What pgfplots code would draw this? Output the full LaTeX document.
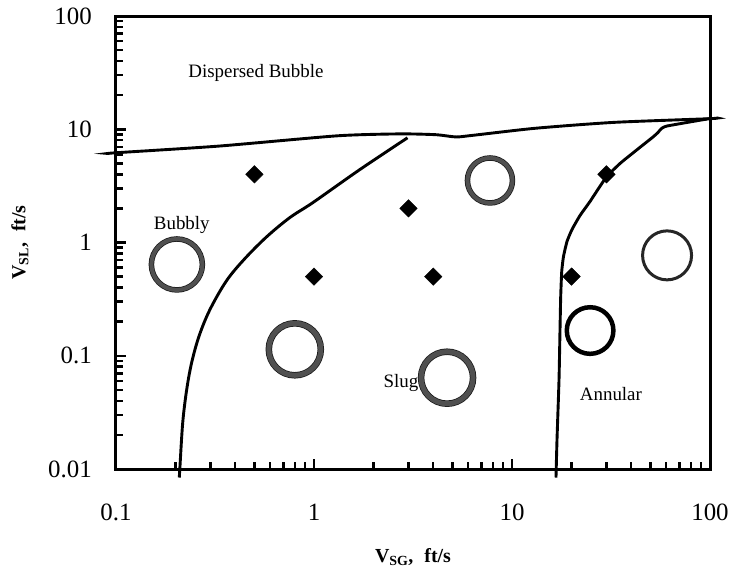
\documentclass[border=0pt]{standalone}
\usepackage{pgfplots}
\pgfplotsset{compat=1.18}
\usepackage{fontspec}
\setmainfont{Liberation Serif}
\definecolor{ringgray}{RGB}{80,80,80}
\pgfplotsset{
  grayring/.style n args={2}{only marks, mark=o, mark size=#1, mark options={draw=black!90, line width=#2}},
  grayin/.style n args={2}{only marks, mark=o, mark size=#1, mark options={draw=ringgray, line width=#2}},
}
\begin{document}
\begin{tikzpicture}
\begin{axis}[
  name=ax,
  scale only axis, width=594bp, height=453bp,
  xmode=log, ymode=log, xmin=0.1, xmax=100, ymin=0.01, ymax=100,
  clip=false,
  axis line style={line width=3bp},
  xtick={0.1,1,10,100}, xticklabels={0.1,1,10,100},
  ytick={0.01,0.1,1,10,100}, yticklabels={0.01,0.1,1,10,100},
  minor xtick={0.2,0.3,0.4,0.5,0.6,0.7,0.8,0.9,2,3,4,5,6,7,8,9,20,30,40,50,60,70,80,90},
  minor ytick={0.02,0.03,0.04,0.05,0.06,0.07,0.08,0.09,0.2,0.3,0.4,0.5,0.6,0.7,0.8,0.9,2,3,4,5,6,7,8,9,20,30,40,50,60,70,80,90},
  xtick pos=bottom, ytick pos=left,
  tick align=inside,
  major tick length=10bp, minor tick length=7bp,
  tick style={black, line width=2.5bp},
  tick label style={font=\fontsize{25}{30}\selectfont, inner sep=0pt},
  yticklabel style={anchor=east, xshift=-24bp},
  xticklabel style={anchor=center, yshift=-43bp},
  xlabel={\fontsize{20}{24}\selectfont\textbf{V\textsubscript{SG},\hspace{0.55em}ft/s}},
  ylabel={\fontsize{20}{24}\selectfont\textbf{V\textsubscript{SL},\hspace{0.55em}ft/s}},
  xlabel style={at={(axis description cs:0.5,0)}, anchor=center, yshift=-88bp},
  ylabel style={at={(axis description cs:0,0.5)}, anchor=center, yshift=96bp},
]
% Dispersed bubble boundary
\addplot[black, line width=2.9bp, smooth, tension=0.4] coordinates {
 (0.092,6.1) (0.1,6.2) (0.33,7.1) (1.31,8.75) (2.72,9.1) (4.13,8.95) (5.21,8.55) (6.24,8.81) (13.1,10.2) (32.7,11.5) (100,12.4) (108,12.6)};
% Bubbly / slug boundary
\addplot[black, line width=2.9bp, smooth, tension=0.55] coordinates {
 (0.2088,0.00841) (0.2104,0.01052) (0.2173,0.02574) (0.2276,0.05035) (0.2411,0.0871) (0.2630,0.1500) (0.2983,0.2561) (0.3623,0.4619) (0.4481,0.7225) (0.5789,1.130) (0.7563,1.663) (0.9885,2.255) (1.707,4.413) (2.966,8.405)};
% Slug / annular boundary
\addplot[black, line width=2.9bp, smooth, tension=0.3] coordinates {
 (16.68,0.00841) (16.88,0.01822) (17.28,0.0617) (17.48,0.1705) (17.62,0.3337) (17.83,0.5546) (18.20,0.7522) (18.96,1.021) (20.09,1.302) (22.05,1.731) (24.77,2.301) (29.84,3.750) (35.12,4.984) (42.30,6.493) (51.54,8.543) (54.63,9.361) (56.56,10.05) (60.66,10.68) (100,12.44)};
% data points
\addplot[only marks, mark=square*, mark size=6.2bp, mark options={rotate=45, fill=black, draw=black}] coordinates {
 (0.5,4) (1,0.5) (3,2) (4,0.5) (20,0.5) (30,4)};
% bubble pictograms
\addplot[grayring={25.5bp}{5.5bp}] coordinates {(0.203,0.64)};
\addplot[grayin={25.5bp}{4bp}] coordinates {(0.203,0.64)};
\addplot[grayring={26bp}{6.5bp}] coordinates {(0.80,0.114)};
\addplot[grayin={26bp}{5bp}] coordinates {(0.80,0.114)};
\addplot[grayring={26bp}{6.5bp}] coordinates {(4.70,0.064)};
\addplot[grayin={26bp}{5bp}] coordinates {(4.70,0.064)};
\addplot[grayring={22.5bp}{5.5bp}] coordinates {(7.74,3.53)};
\addplot[grayin={22.5bp}{4bp}] coordinates {(7.74,3.53)};
\addplot[only marks, mark=o, mark size=23.3bp, mark options={draw=black, line width=4.5bp}] coordinates {(24.8,0.167)};
\addplot[only marks, mark=o, mark size=24.5bp, mark options={draw=black!85, line width=3bp}] coordinates {(60.7,0.77)};
% region labels
\node[font=\fontsize{19}{22}\selectfont] at (axis cs:0.509,31.7) {Dispersed Bubble};
\node[font=\fontsize{19}{22}\selectfont] at (axis cs:0.215,1.44) {Bubbly};
\node[font=\fontsize{19}{22}\selectfont] at (axis cs:2.75,0.058) {Slug};
\node[font=\fontsize{19}{22}\selectfont] at (axis cs:31.6,0.0455) {Annular};
\end{axis}
\pgfresetboundingbox
\path ([shift={(-116bp,-102bp)}]ax.south west) rectangle ([shift={(26bp,16bp)}]ax.north east);
\end{tikzpicture}
\end{document}
